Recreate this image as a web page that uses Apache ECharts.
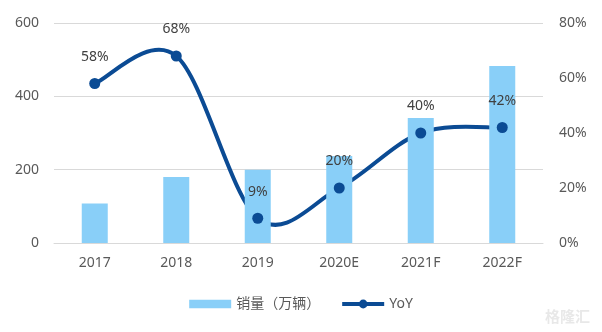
<!DOCTYPE html>
<html>
<head>
<meta charset="utf-8">
<script src="https://cdn.jsdelivr.net/npm/echarts@6/dist/echarts.min.js"></script>
<style>
  html, body { margin: 0; padding: 0; background: #fff; }
  #chart { width: 602px; height: 332px; }
</style>
</head>
<body>
<div id="chart"></div>
<script>
// Annual sales (10k units) and year-over-year growth
const years = ['2017', '2018', '2019', '2020E', '2021F', '2022F'];
const sales = [108, 180, 200, 237, 341, 483];
const yoy = [0.58, 0.68, 0.09, 0.20, 0.40, 0.42];
const leftTicks = [0, 200, 400, 600];
const rightTicks = [0, 0.2, 0.4, 0.6, 0.8];

const textColor = '#595959';
const lineColor = '#0B4B94';
const font = '"Noto Sans", "Noto Sans CJK SC", sans-serif';

// Cardinal-spline curve through the YoY points (pixel positions come from the axes)
function renderYoyCurve(params, api) {
  if (params.dataIndex !== 0) return null;
  const pts = yoy.map((v, i) => api.coord([i, v]));
  const t = 1 / 6;
  let d = 'M' + pts[0][0] + ',' + pts[0][1];
  for (let i = 0; i < pts.length - 1; i++) {
    const p0 = pts[Math.max(i - 1, 0)];
    const p1 = pts[i];
    const p2 = pts[i + 1];
    const p3 = pts[Math.min(i + 2, pts.length - 1)];
    const c1 = [p1[0] + (p2[0] - p0[0]) * t, p1[1] + (p2[1] - p0[1]) * t];
    const c2 = [p2[0] - (p3[0] - p1[0]) * t, p2[1] - (p3[1] - p1[1]) * t];
    d += ' C' + c1.join(',') + ' ' + c2.join(',') + ' ' + p2.join(',');
  }
  return {
    type: 'path',
    shape: { pathData: d },
    style: { fill: 'none', stroke: lineColor, lineWidth: 4, lineJoin: 'round', lineCap: 'round' }
  };
}

const chart = echarts.init(document.getElementById('chart'), null, { renderer: 'canvas' });
chart.setOption({
  animation: false,
  textStyle: { fontFamily: font },
  grid: { left: 54, right: 59, top: 23, bottom: 89 },
  legend: {
    bottom: 16,
    left: 'center',
    itemGap: 20,
    itemWidth: 42,
    itemHeight: 11,
    textStyle: { color: textColor, fontSize: 14, fontFamily: font },
    data: [
      { name: '销量（万辆）', icon: 'path://M0,0H40V8H0Z' },
      { name: 'YoY', lineStyle: { opacity: 1, width: 4, color: lineColor } }
    ]
  },
  xAxis: {
    type: 'category',
    data: years,
    axisLine: { show: true, lineStyle: { color: '#d9d9d9', width: 1 } },
    axisTick: { show: false },
    axisLabel: { color: textColor, fontSize: 14, margin: 13 }
  },
  yAxis: [
    {
      type: 'value',
      min: leftTicks[0],
      max: leftTicks[leftTicks.length - 1],
      interval: 200,
      axisLine: { show: false },
      axisTick: { show: false },
      axisLabel: { color: textColor, fontSize: 14, margin: 15 },
      splitLine: { lineStyle: { color: '#d9d9d9', width: 1 } }
    },
    {
      type: 'value',
      min: rightTicks[0],
      max: rightTicks[rightTicks.length - 1],
      interval: 0.2,
      axisLine: { show: false },
      axisTick: { show: false },
      splitLine: { show: false },
      axisLabel: {
        color: textColor, fontSize: 14, margin: 16,
        formatter: v => Math.round(v * 100) + '%'
      }
    }
  ],
  series: [
    {
      name: '销量（万辆）',
      type: 'bar',
      data: sales,
      barWidth: 26,
      itemStyle: { color: '#89CFF8' }
    },
    {
      name: 'yoyCurve',
      type: 'custom',
      yAxisIndex: 1,
      data: yoy,
      renderItem: renderYoyCurve,
      silent: true,
      itemStyle: { color: lineColor },
      z: 2
    },
    {
      name: 'YoY',
      type: 'line',
      yAxisIndex: 1,
      data: yoy,
      symbol: 'circle',
      symbolSize: 11,
      lineStyle: { opacity: 0, width: 4, color: lineColor },
      itemStyle: { color: lineColor },
      label: {
        show: true,
        position: 'top',
        distance: 14,
        color: '#404040',
        fontSize: 14,
        formatter: p => Math.round(p.value * 100) + '%'
      },
      z: 3
    }
  ],
  graphic: [
    {
      type: 'text',
      right: 12,
      bottom: 8,
      style: { text: '格隆汇', fill: 'rgba(190,190,190,0.35)', fontSize: 15, fontFamily: '"Noto Sans CJK SC", sans-serif', fontWeight: 'bold' }
    }
  ]
});
</script>
</body>
</html>
